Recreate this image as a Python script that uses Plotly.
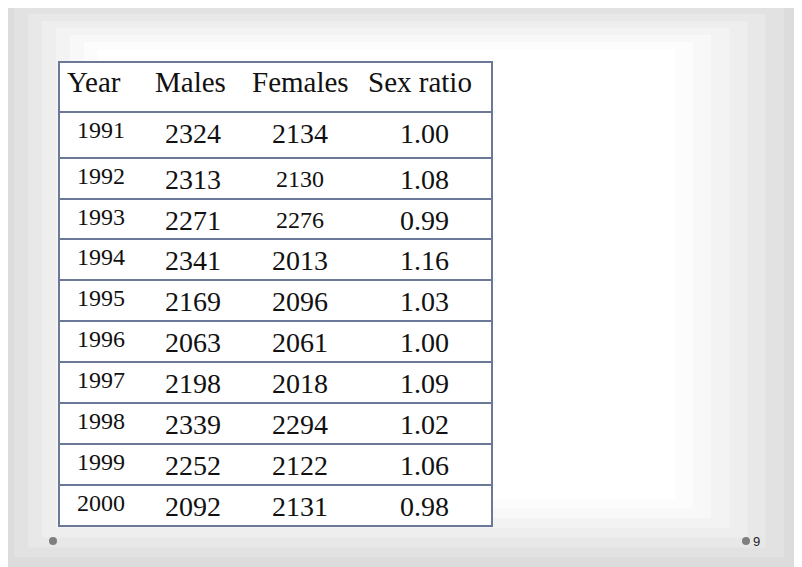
import plotly.graph_objects as go

headers = ["Year", "Males", "Females", "Sex ratio"]
years = ["1991", "1992", "1993", "1994", "1995", "1996", "1997", "1998", "1999", "2000"]
males = ["2324", "2313", "2271", "2341", "2169", "2063", "2198", "2339", "2252", "2092"]
females = ["2134", "2130", "2276", "2013", "2096", "2061", "2018", "2294", "2122", "2131"]
sex_ratio = ["1.00", "1.08", "0.99", "1.16", "1.03", "1.00", "1.09", "1.02", "1.06", "0.98"]
page_number = "9"

W, H = 802, 567
OFF = 8  # page body margin
FONT = "Liberation Serif"
BORDER = "#6b7898"
fig = go.Figure()
fig.add_trace(go.Scatter(x=[OFF], y=[OFF], mode="markers", marker=dict(opacity=0), hoverinfo="skip", showlegend=False))

shapes = []
cols = ["#dcdcdc", "#e2e2e2", "#e8e8e8", "#eeeeee", "#f3f3f3", "#f8f8f8", "#fcfcfc", "#ffffff"]
for i, c in enumerate(cols):
    pad = i * 14
    shapes.append(dict(type="rect", x0=pad, x1=W - pad * 1.3, y0=pad * 0.5, y1=H - pad * 0.7,
                       fillcolor=c, line=dict(width=0), layer="below"))
left, right, top, bottom = 59, 492, 62, 526
row_tops = [112, 158, 199, 239, 280, 321, 362, 403, 444, 485]
shapes.append(dict(type="rect", x0=left, x1=right, y0=top, y1=bottom, fillcolor="white",
                   line=dict(color=BORDER, width=2), layer="below"))
for y in row_tops:
    shapes.append(dict(type="line", x0=left, x1=right, y0=y, y1=y, line=dict(color=BORDER, width=2)))
for x in [53, 746]:
    shapes.append(dict(type="circle", x0=x - 4, x1=x + 4, y0=537, y1=545, fillcolor="#7f7f7f", line=dict(width=0)))

ann = []
hx = [94, 190, 300, 420]
for h, x in zip(headers, hx):
    ann.append(dict(x=x, y=82, text=h, font=dict(family=FONT, size=29, color="#111")))
for i, t in enumerate(row_tops):
    ann.append(dict(x=101, y=t + 18, text=years[i], font=dict(family=FONT, size=24, color="#111")))
    ann.append(dict(x=193, y=t + 21, text=males[i], font=dict(family=FONT, size=28, color="#111")))
    fs = 24 if (i in (1, 2)) else 28
    ann.append(dict(x=300, y=t + 21, text=females[i], font=dict(family=FONT, size=fs, color="#111")))
    ann.append(dict(x=424, y=t + 21, text=sex_ratio[i], font=dict(family=FONT, size=28, color="#111")))
ann.append(dict(x=756, y=541, text=page_number, font=dict(family="Liberation Sans", size=13, color="#222")))
for a in ann:
    a.update(xref="x", yref="y", showarrow=False, xanchor="center", yanchor="middle")

fig.update_layout(width=W, height=H, margin=dict(l=0, r=0, t=0, b=0),
                  paper_bgcolor="#dcdcdc", plot_bgcolor="#dcdcdc",
                  xaxis=dict(range=[OFF, W + OFF], visible=False, fixedrange=True),
                  yaxis=dict(range=[H + OFF, OFF], visible=False, fixedrange=True),
                  shapes=shapes, annotations=ann, showlegend=False)
fig.write_html("out.html", config={"displayModeBar": False})
